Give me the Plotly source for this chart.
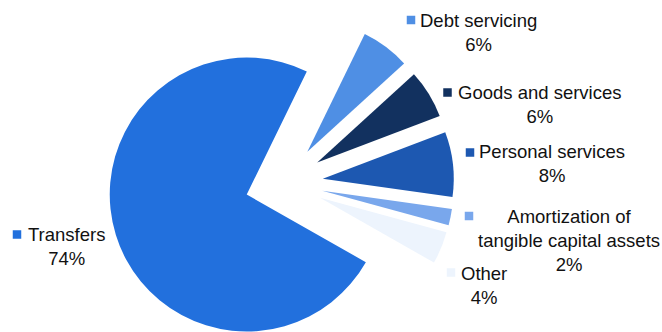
import math
import plotly.graph_objects as go

# Spending breakdown, in percent of total
categories = [
    "Debt servicing",
    "Goods and services",
    "Personal services",
    "Amortization of tangible capital assets",
    "Other",
    "Transfers",
]
shares = [6, 6, 8, 2, 4, 74]
label_lines = [
    "Debt servicing",
    "Goods and services",
    "Personal services",
    "Amortization of<br>tangible capital assets",
    "Other",
    "Transfers",
]
slice_colors = ["#4F8FE4", "#12315F", "#1D58B1", "#79A7EC", "#EDF4FD", "#2270DD"]

# Layout (pixels)
W, H = 662, 332
CENTER = (284, 183)      # common pie centre before explosion
EXPLODE = 39             # radial offset of every slice
ROTATION = 26            # start angle of the first slice, clockwise from 12 o'clock
RADIUS = [131, 131, 131, 131, 131, 137]
LABEL_POS = [(478, 32.5), (539.5, 104.5), (552, 163.5), (569, 240), (484, 285), (66.5, 246.5)]
KEY_POS = [(411, 20), (447.5, 92.5), (470, 152.5), (469, 216), (451, 272.5), (17, 234.5)]
KEY_SIZE = 8.5
FONT = dict(family="Liberation Sans, Arial, sans-serif", size=18.5, color="#111111")

total = sum(shares)
fig = go.Figure()

# One pie per slice so each slice can be pushed out along its own bisector.
angle = ROTATION
for i, v in enumerate(shares):
    span = 360.0 * v / total
    mid = math.radians(angle + span / 2)
    angle += span
    cx = CENTER[0] + EXPLODE * math.sin(mid)
    cy = CENTER[1] - EXPLODE * math.cos(mid)
    r = RADIUS[i]
    dom_x = [max(0.0, (cx - r) / W), min(1.0, (cx + r) / W)]
    dom_y = [max(0.0, 1 - (cy + r) / H), min(1.0, 1 - (cy - r) / H)]
    colors = [c if j == i else "rgba(0,0,0,0)" for j, c in enumerate(slice_colors)]
    fig.add_trace(go.Pie(
        labels=categories,
        values=shares,
        sort=False,
        direction="clockwise",
        rotation=ROTATION,
        marker=dict(colors=colors, line=dict(width=0)),
        textinfo="none",
        hoverinfo="skip",
        domain=dict(x=dom_x, y=dom_y),
        showlegend=False,
    ))

annotations = []
shapes = []
for i, v in enumerate(shares):
    pct = round(100 * v / total)
    lx, ly = LABEL_POS[i]
    annotations.append(dict(
        x=lx / W, y=1 - ly / H, xref="paper", yref="paper",
        xanchor="center", yanchor="middle", align="center",
        showarrow=False, text=f"{label_lines[i]}<br>{pct}%", font=FONT,
    ))
    kx, ky = KEY_POS[i]
    shapes.append(dict(
        type="rect", xref="paper", yref="paper",
        x0=(kx - KEY_SIZE / 2) / W, x1=(kx + KEY_SIZE / 2) / W,
        y0=1 - (ky + KEY_SIZE / 2) / H, y1=1 - (ky - KEY_SIZE / 2) / H,
        fillcolor=slice_colors[i], line=dict(width=0),
    ))

fig.update_layout(
    width=W, height=H,
    margin=dict(l=0, r=0, t=0, b=0),
    paper_bgcolor="white", plot_bgcolor="white",
    annotations=annotations, shapes=shapes,
    showlegend=False,
)

fig.write_html("out.html")
